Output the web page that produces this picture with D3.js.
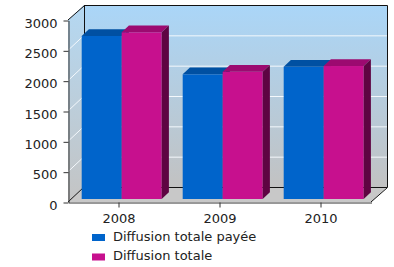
<!DOCTYPE html>
<html>
<head>
<meta charset="utf-8">
<script src="https://cdn.jsdelivr.net/npm/d3@7"></script>
<style>
  body { margin: 0; background: #fff; }
  svg { display: block; }
  text { font-family: "DejaVu Sans", Verdana, sans-serif; font-size: 13px; fill: #222; }
</style>
</head>
<body>
<div id="chart"></div>
<script>
const years = ['2008', '2009', '2010'];
const series = ['Diffusion totale payée', 'Diffusion totale'];
const paidValues = [2687, 2055, 2181];
const totalValues = [2748, 2098, 2192];
const yTicks = [0, 500, 1000, 1500, 2000, 2500, 3000];

const colors = [
  {front: '#0064cb', top: '#0050a2', side: '#003a78'},
  {front: '#c7108e', top: '#9c0a70', side: '#5e0442'}
];

const width = 394, height = 267;
const plotLeft = 68, plotRight = 371, plotTop = 20, plotBottom = 202;
const depth = {x: 16, y: -15};

const svg = d3.select('#chart').append('svg')
  .attr('width', width)
  .attr('height', height);

const defs = svg.append('defs');
const grad = defs.append('linearGradient')
  .attr('id', 'wall').attr('x1', 0).attr('y1', 0).attr('x2', 0).attr('y2', 1);
grad.append('stop').attr('offset', '0%').attr('stop-color', '#aad6f8');
grad.append('stop').attr('offset', '100%').attr('stop-color', '#c2c2c2');

const sideGrad = defs.append('linearGradient')
  .attr('id', 'sidewall').attr('x1', 0).attr('y1', 0).attr('x2', 0).attr('y2', 1);
sideGrad.append('stop').attr('offset', '0%').attr('stop-color', '#b4d8f2');
sideGrad.append('stop').attr('offset', '100%').attr('stop-color', '#c4c4c4');

const y = d3.scaleLinear().domain([0, 3000]).range([plotBottom, plotTop]);
const x = d3.scaleBand().domain(years).range([plotLeft, plotRight]);
const bw = x.bandwidth();
const xs = d3.scaleBand().domain(series).range([10.5, bw - 10.5]);

const bx = plotLeft + depth.x, by = depth.y;
const backRight = plotRight + depth.x;

// back wall
svg.append('rect')
  .attr('x', bx).attr('y', plotTop + by)
  .attr('width', plotRight - plotLeft).attr('height', plotBottom - plotTop)
  .attr('fill', 'url(#wall)');

// left wall
svg.append('path')
  .attr('d', `M${plotLeft},${plotTop}L${bx},${plotTop + by}L${bx},${plotBottom + by}L${plotLeft},${plotBottom}Z`)
  .attr('fill', 'url(#sidewall)');

// floor
svg.append('path')
  .attr('d', `M${plotLeft},${plotBottom}L${bx},${plotBottom + by}L${backRight},${plotBottom + by}L${plotRight},${plotBottom}Z`)
  .attr('fill', '#c8c8c8');

// grid lines
const grid = svg.append('g').attr('stroke', '#f4f8fc').attr('stroke-width', 1);
yTicks.filter(v => v > 0 && v < 3000).forEach(v => {
  grid.append('line')
    .attr('x1', bx).attr('x2', backRight)
    .attr('y1', y(v) + by + 0.5).attr('y2', y(v) + by + 0.5);
  grid.append('line')
    .attr('x1', plotLeft).attr('x2', bx)
    .attr('y1', y(v)).attr('y2', y(v) + by);
});

// frame lines
const frame = svg.append('g').attr('stroke', '#111').attr('fill', 'none').attr('stroke-width', 1);
frame.append('path')
  .attr('d', `M${plotLeft},${plotTop}L${bx + 0.5},${plotTop + by + 0.5}L${backRight + 0.5},${plotTop + by + 0.5}L${backRight + 0.5},${plotBottom + by + 0.5}L${plotRight},${plotBottom}`);
frame.append('path')
  .attr('d', `M${bx + 0.5},${plotTop + by}L${bx + 0.5},${plotBottom + by + 0.5}L${backRight},${plotBottom + by + 0.5}`);
frame.append('path')
  .attr('d', `M${plotLeft},${plotBottom}L${bx},${plotBottom + by}`);

// bars
const f0 = 0.2, f1 = 0.65;
const fo = {x: depth.x * f0, y: depth.y * f0};
const bo = {x: depth.x * f1, y: depth.y * f1};

const barData = [];
years.forEach((yr, i) => {
  [paidValues[i], totalValues[i]].forEach((v, s) => {
    barData.push({year: yr, s: s, value: v});
  });
});

const bars = svg.append('g').selectAll('g').data(barData).join('g');
bars.each(function(d) {
  const g = d3.select(this);
  const x0 = x(d.year) + xs(series[d.s]);
  const x1 = x0 + xs.bandwidth();
  const yt = y(d.value), yb = y(0);
  const c = colors[d.s];
  g.append('rect')
    .attr('x', x0 + fo.x).attr('y', yt + fo.y)
    .attr('width', x1 - x0).attr('height', yb - yt)
    .attr('fill', c.front);
  g.append('path')
    .attr('d', `M${x0 + fo.x},${yt + fo.y}L${x1 + fo.x},${yt + fo.y}L${x1 + bo.x},${yt + bo.y}L${x0 + bo.x},${yt + bo.y}Z`)
    .attr('fill', c.top);
  g.append('path')
    .attr('d', `M${x1 + fo.x},${yt + fo.y}L${x1 + bo.x},${yt + bo.y}L${x1 + bo.x},${yb + bo.y}L${x1 + fo.x},${yb + fo.y}Z`)
    .attr('fill', c.side);
});

// axes
const yAxis = svg.append('g')
  .attr('transform', `translate(${plotLeft + 0.5},0.5)`)
  .call(d3.axisLeft(y).tickValues(yTicks).tickFormat(d3.format('d'))
    .tickSize(5).tickSizeOuter(0).tickPadding(6));
yAxis.selectAll('text').attr('dy', '0.5em').attr('font-size', 13);

const xAxis = svg.append('g')
  .attr('transform', `translate(0.5,${plotBottom + 0.5})`)
  .call(d3.axisBottom(x).tickSize(5).tickSizeOuter(0).tickPadding(6));
xAxis.selectAll('text').attr('font-size', 13);

svg.selectAll('.domain').attr('stroke', '#333');
svg.selectAll('.tick line').attr('stroke', '#333');
svg.selectAll('.tick text').attr('fill', '#222').attr('font-family', '"DejaVu Sans", Verdana, sans-serif');

// legend
const legend = svg.append('g').attr('transform', 'translate(92,234)');
series.forEach((name, i) => {
  const row = legend.append('g').attr('transform', `translate(0,${i * 19.5})`);
  row.append('rect').attr('width', 13).attr('height', 7).attr('fill', colors[i].front);
  row.append('text').attr('x', 21).attr('y', 6.5).text(name);
});
</script>
</body>
</html>
